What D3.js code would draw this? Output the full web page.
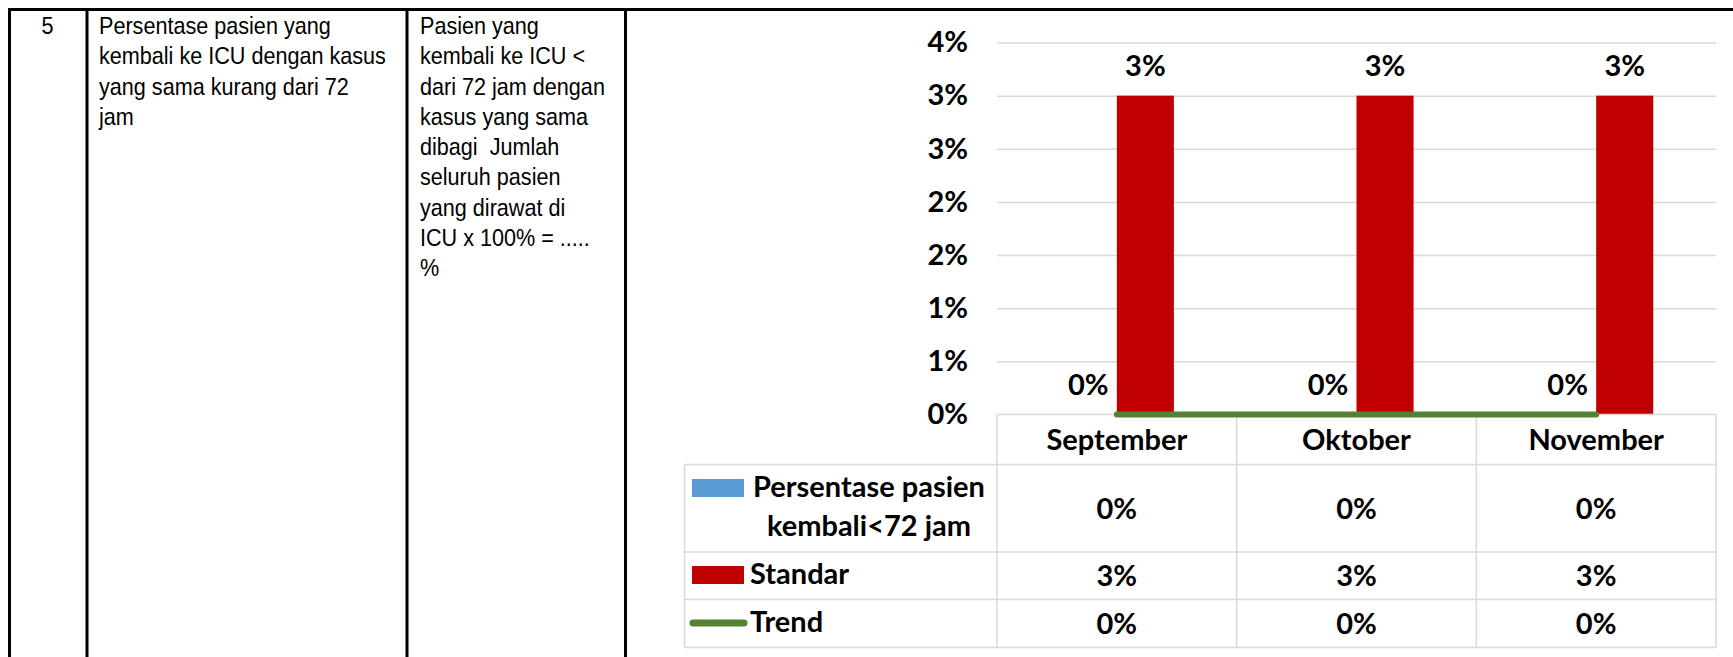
<!DOCTYPE html>
<html>
<head>
<meta charset="utf-8">
<script src="https://cdn.jsdelivr.net/npm/d3@7"></script>
<style>
  html, body { margin: 0; padding: 0; background: #fff; }
  svg { display: block; }
</style>
</head>
<body>
<script>
// chart data
const categories = ["September", "Oktober", "November"];
const persentaseValues = [0, 0, 0];
const standarValues = [0.03, 0.03, 0.03];
const trendValues = [0, 0, 0];
const yTickValues = [0, 0.005, 0.01, 0.015, 0.02, 0.025, 0.03, 0.035];
const yTickLabels = ["0%", "1%", "1%", "2%", "2%", "3%", "3%", "4%"];
const seriesNames = ["Persentase pasien kembali<72 jam", "Standar", "Trend"];

// table text on the left
const noText = "5";
const indikatorLines = ["Persentase pasien yang", "kembali ke ICU dengan kasus", "yang sama kurang dari 72", "jam"];
const rumusLines = ["Pasien yang", "kembali ke ICU <", "dari 72 jam dengan", "kasus yang sama", "dibagi  Jumlah",
  "seluruh pasien", "yang dirawat di", "ICU x 100% = .....", "%"];

const width = 1733, height = 657;
const blue = "#5b9bd5", red = "#c00000", green = "#548235", grid = "#d9d9d9";
const chartFont = "Lato, Calibri, 'Open Sans', sans-serif";
const pct = d3.format(".0%");

const svg = d3.select("body").append("svg")
    .attr("width", width)
    .attr("height", height);

// outer document table
const colX = [9.5, 87, 407, 625.5];
svg.append("line")
    .attr("x1", 8).attr("x2", width)
    .attr("y1", 9.5).attr("y2", 9.5)
    .attr("stroke", "#000").attr("stroke-width", 3);
svg.selectAll(".colline")
    .data(colX)
    .enter()
    .append("line")
    .attr("x1", d => d).attr("x2", d => d)
    .attr("y1", 8).attr("y2", height)
    .attr("stroke", "#000").attr("stroke-width", 3);

// narrow-looking text: regular sans squeezed horizontally
const sx = 0.9;
const lineGap = 30.3, firstBase = 34;
const leftText = svg.append("g")
    .attr("transform", "scale(" + sx + ",1)")
    .style("font-family", "'Liberation Sans', Arial, sans-serif")
    .style("font-size", "24px")
    .attr("fill", "#000");

leftText.append("text")
    .attr("x", 47.5 / sx).attr("y", firstBase)
    .attr("text-anchor", "middle")
    .text(noText);

leftText.append("text")
    .selectAll("tspan")
    .data(indikatorLines)
    .enter()
    .append("tspan")
    .attr("x", 99 / sx)
    .attr("y", (d, i) => firstBase + i * lineGap)
    .text(d => d);

leftText.append("text")
    .attr("xml:space", "preserve")
    .style("white-space", "pre")
    .selectAll("tspan")
    .data(rumusLines)
    .enter()
    .append("tspan")
    .attr("x", 420 / sx)
    .attr("y", (d, i) => firstBase + i * lineGap)
    .text(d => d);

// chart
const plotLeft = 997, plotRight = 1716, plotTop = 42.5, plotBottom = 414.5;

const x0 = d3.scaleBand()
    .domain(categories)
    .range([plotLeft, plotRight])
    .padding(0);

const x1 = d3.scaleBand()
    .domain(["persentase", "standar"])
    .range([0, x0.bandwidth()])
    .paddingInner(0)
    .paddingOuter(1.1);

const y = d3.scaleLinear()
    .domain([0, 0.035])
    .range([plotBottom, plotTop]);

// gridlines
svg.append("g")
    .attr("transform", "translate(" + plotLeft + ",0)")
    .call(d3.axisLeft(y).tickValues(yTickValues.slice(1)).tickSize(-(plotRight - plotLeft)).tickFormat(""))
    .call(g => g.select(".domain").remove())
    .call(g => g.selectAll("line").attr("stroke", grid).attr("stroke-width", 1.5));

// y labels
svg.append("g")
    .attr("transform", "translate(" + (plotLeft - 29) + ",0)")
    .call(d3.axisLeft(y).tickValues(yTickValues).tickSize(0).tickPadding(0).tickFormat((d, i) => yTickLabels[i]))
    .call(g => g.select(".domain").remove())
    .call(g => g.selectAll("text")
        .style("font-family", chartFont)
        .style("font-size", "29px")
        .style("font-weight", "700")
        .attr("fill", "#000"));

const rows = categories.map((c, i) => ({
    cat: c,
    persentase: persentaseValues[i],
    standar: standarValues[i],
    trend: trendValues[i]
}));

// bars
svg.selectAll(".bar-p")
    .data(rows)
    .enter()
    .append("rect")
    .attr("x", d => x0(d.cat) + x1("persentase"))
    .attr("width", x1.bandwidth())
    .attr("y", d => y(d.persentase))
    .attr("height", d => y(0) - y(d.persentase))
    .attr("fill", blue);

svg.selectAll(".bar-s")
    .data(rows)
    .enter()
    .append("rect")
    .attr("x", d => x0(d.cat) + x1("standar"))
    .attr("width", x1.bandwidth())
    .attr("y", d => y(d.standar))
    .attr("height", d => y(0) - y(d.standar))
    .attr("fill", red);

// data labels
const labelStyle = sel => sel
    .attr("text-anchor", "middle")
    .style("font-family", chartFont)
    .style("font-size", "29px")
    .style("font-weight", "700")
    .attr("fill", "#000");

svg.selectAll(".lab-p")
    .data(rows)
    .enter()
    .append("text")
    .attr("x", d => x0(d.cat) + x1("persentase") + x1.bandwidth() / 2)
    .attr("y", d => y(d.persentase) - 20)
    .call(labelStyle)
    .text(d => pct(d.persentase));

svg.selectAll(".lab-s")
    .data(rows)
    .enter()
    .append("text")
    .attr("x", d => x0(d.cat) + x1("standar") + x1.bandwidth() / 2)
    .attr("y", d => y(d.standar) - 20)
    .call(labelStyle)
    .text(d => pct(d.standar));

// data table
const legendLeft = 684.5;
const rowEdges = [plotBottom, 464.5, 552, 599.5, 647.5];
const tableLines = svg.append("g")
    .attr("stroke", grid)
    .attr("stroke-width", 1.5);

tableLines.append("line")
    .attr("x1", plotLeft).attr("x2", plotRight)
    .attr("y1", plotBottom).attr("y2", plotBottom);
tableLines.selectAll(".hrow")
    .data(rowEdges.slice(1))
    .enter()
    .append("line")
    .attr("x1", legendLeft).attr("x2", plotRight)
    .attr("y1", d => d).attr("y2", d => d);
tableLines.append("line")
    .attr("x1", legendLeft).attr("x2", legendLeft)
    .attr("y1", rowEdges[1]).attr("y2", rowEdges[4]);
tableLines.selectAll(".vcol")
    .data(categories.map(c => x0(c)).concat([plotRight]))
    .enter()
    .append("line")
    .attr("x1", d => d).attr("x2", d => d)
    .attr("y1", plotBottom).attr("y2", rowEdges[4]);

// trend line (drawn over bars)
const trendLine = d3.line()
    .x(d => x0(d.cat) + x0.bandwidth() / 2)
    .y(d => y(d.trend));

svg.append("path")
    .datum(rows)
    .attr("d", trendLine)
    .attr("fill", "none")
    .attr("stroke", green)
    .attr("stroke-width", 6)
    .attr("stroke-linecap", "round");

// header row
svg.selectAll(".cathead")
    .data(categories)
    .enter()
    .append("text")
    .attr("x", d => x0(d) + x0.bandwidth() / 2)
    .attr("y", (rowEdges[0] + rowEdges[1]) / 2)
    .attr("dy", "0.36em")
    .call(labelStyle)
    .text(d => d);

// value rows
const tableSeries = [persentaseValues, standarValues, trendValues];
tableSeries.forEach((vals, r) => {
    svg.selectAll(".cell" + r)
        .data(vals)
        .enter()
        .append("text")
        .attr("x", (d, i) => x0(categories[i]) + x0.bandwidth() / 2)
        .attr("y", (rowEdges[r + 1] + rowEdges[r + 2]) / 2)
        .attr("dy", "0.36em")
        .call(labelStyle)
        .text(d => pct(d));
});

// legend keys in the table
svg.append("rect")
    .attr("x", 692).attr("y", 479)
    .attr("width", 52).attr("height", 18)
    .attr("fill", blue);
svg.append("rect")
    .attr("x", 692).attr("y", 566)
    .attr("width", 52).attr("height", 18)
    .attr("fill", red);
svg.append("line")
    .attr("x1", 693).attr("x2", 744)
    .attr("y1", 623).attr("y2", 623)
    .attr("stroke", green)
    .attr("stroke-width", 7)
    .attr("stroke-linecap", "round");

const legendText = sel => sel
    .style("font-family", chartFont)
    .style("font-size", "29px")
    .style("font-weight", "700")
    .attr("fill", "#000");

svg.append("text")
    .attr("x", 869).attr("y", 497)
    .attr("text-anchor", "middle")
    .call(legendText)
    .text("Persentase pasien");
svg.append("text")
    .attr("x", 869).attr("y", 536)
    .attr("text-anchor", "middle")
    .call(legendText)
    .text("kembali<72 jam");
svg.append("text")
    .attr("x", 750).attr("y", 584)
    .call(legendText)
    .text(seriesNames[1]);
svg.append("text")
    .attr("x", 750).attr("y", 632)
    .call(legendText)
    .text(seriesNames[2]);
</script>
</body>
</html>
